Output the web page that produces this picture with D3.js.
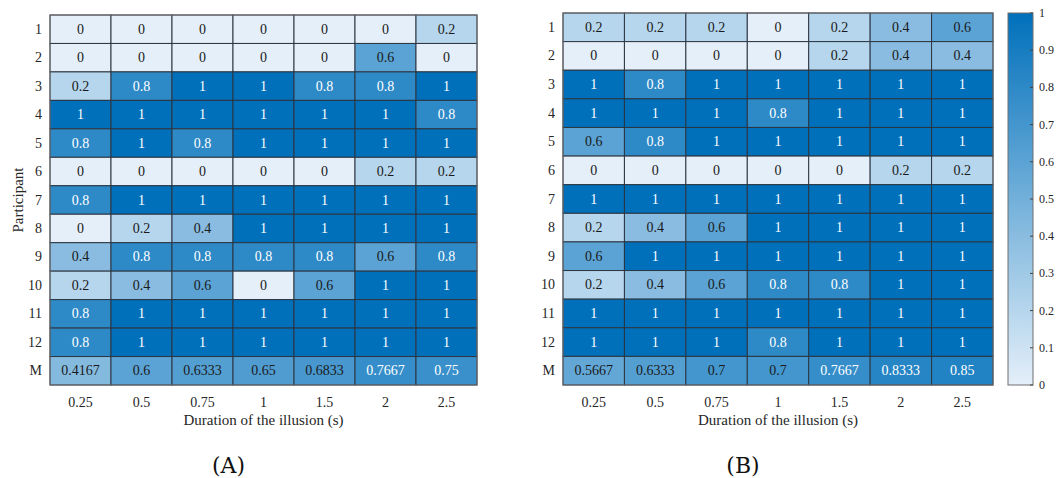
<!DOCTYPE html>
<html><head><meta charset="utf-8">
<script src="https://cdn.jsdelivr.net/npm/d3@7"></script>
<style>body{margin:0;background:#fff;}svg{display:block;}</style>
</head><body><svg id="c" width="1058" height="478" font-family="Liberation Serif, DejaVu Serif, serif"></svg>
<script>
const durations = ["0.25","0.5","0.75","1","1.5","2","2.5"];
const rowsLabels = ["1","2","3","4","5","6","7","8","9","10","11","12","M"];
const dataA = [
 [0,0,0,0,0,0,0.2],
 [0,0,0,0,0,0.6,0],
 [0.2,0.8,1,1,0.8,0.8,1],
 [1,1,1,1,1,1,0.8],
 [0.8,1,0.8,1,1,1,1],
 [0,0,0,0,0,0.2,0.2],
 [0.8,1,1,1,1,1,1],
 [0,0.2,0.4,1,1,1,1],
 [0.4,0.8,0.8,0.8,0.8,0.6,0.8],
 [0.2,0.4,0.6,0,0.6,1,1],
 [0.8,1,1,1,1,1,1],
 [0.8,1,1,1,1,1,1],
 [0.4167,0.6,0.6333,0.65,0.6833,0.7667,0.75]
];
const dataB = [
 [0.2,0.2,0.2,0,0.2,0.4,0.6],
 [0,0,0,0,0.2,0.4,0.4],
 [1,0.8,1,1,1,1,1],
 [1,1,1,0.8,1,1,1],
 [0.6,0.8,1,1,1,1,1],
 [0,0,0,0,0,0.2,0.2],
 [1,1,1,1,1,1,1],
 [0.2,0.4,0.6,1,1,1,1],
 [0.6,1,1,1,1,1,1],
 [0.2,0.4,0.6,0.8,0.8,1,1],
 [1,1,1,1,1,1,1],
 [1,1,1,0.8,1,1,1],
 [0.5667,0.6333,0.7,0.7,0.7667,0.8333,0.85]
];
const colorTicks = [0,0.1,0.2,0.3,0.4,0.5,0.6,0.7,0.8,0.9,1];

const FONT = "Liberation Serif, DejaVu Serif, serif";
const svg = d3.select("#c");
const color = d3.scaleLinear().domain([0,1]).range(["#e4eff9","#0070bb"]).interpolate(d3.interpolateRgb);

function panel(data, x0, x1, y0, y1, caption, showYTitle){
  const x = d3.scaleBand().domain(durations).range([x0,x1]);
  const y = d3.scaleBand().domain(rowsLabels).range([y0,y1]);
  const g = svg.append("g").attr("font-family",FONT);
  const cells = [];
  data.forEach((row,i)=>row.forEach((v,j)=>cells.push({r:rowsLabels[i],c:durations[j],v})));
  g.selectAll("rect.cell").data(cells).join("rect").attr("class","cell")
    .attr("x",d=>x(d.c)).attr("y",d=>y(d.r)).attr("width",x.bandwidth()).attr("height",y.bandwidth())
    .attr("fill",d=>color(d.v)).attr("stroke","#2c3540").attr("stroke-width",1);
  g.selectAll("text.val").data(cells).join("text").attr("class","val")
    .attr("font-family",FONT)
    .attr("x",d=>x(d.c)+x.bandwidth()/2).attr("y",d=>y(d.r)+y.bandwidth()/2)
    .attr("text-anchor","middle").attr("dominant-baseline","central")
    .attr("font-size",14).attr("fill",d=>d.v>0.72?"#ffffff":"#1a1a1a")
    .text(d=>String(d.v));
  g.append("rect").attr("x",x0).attr("y",y0).attr("width",x1-x0).attr("height",y1-y0)
    .attr("fill","none").attr("stroke","#6e6e6e").attr("stroke-width",1);
  g.selectAll("text.yl").data(rowsLabels).join("text").attr("class","yl")
    .attr("font-family",FONT)
    .attr("x",x0-8).attr("y",d=>y(d)+y.bandwidth()/2).attr("text-anchor","end")
    .attr("dominant-baseline","central").attr("font-size",14).attr("fill","#262626").text(d=>d);
  g.selectAll("text.xl").data(durations).join("text").attr("class","xl")
    .attr("font-family",FONT)
    .attr("x",d=>x(d)+x.bandwidth()/2).attr("y",y1+17).attr("text-anchor","middle")
    .attr("dominant-baseline","central").attr("font-size",14).attr("fill","#262626").text(d=>d);
  g.append("text").attr("font-family",FONT).attr("x",(x0+x1)/2).attr("y",y1+35).attr("text-anchor","middle")
    .attr("dominant-baseline","central").attr("font-size",15).attr("fill","#262626").text("Duration of the illusion (s)");
  if(showYTitle){
    g.append("text").attr("font-family",FONT).attr("transform",`translate(${x0-32},${(y0+y1)/2}) rotate(-90)`)
      .attr("text-anchor","middle").attr("dominant-baseline","central").attr("font-size",15)
      .attr("fill","#262626").text("Participant");
  }
  g.append("text").attr("x",(x0+x1)/2-35).attr("y",465).attr("text-anchor","middle")
    .attr("dominant-baseline","central").attr("font-size",22).attr("font-family","DejaVu Serif, Liberation Serif, serif").attr("fill","#111").text(caption);
}

panel(dataA, 50, 477, 15, 385, "(A)", true);
panel(dataB, 563, 993, 13, 385, "(B)", false);

const cbX = 1008, cbW = 25, cbY0 = 13, cbY1 = 385;
const cy = d3.scaleLinear().domain([0,1]).range([cbY1,cbY0]);
const defs = svg.append("defs");
const grad = defs.append("linearGradient").attr("id","cbg").attr("x1","0").attr("y1","1").attr("x2","0").attr("y2","0");
d3.range(0,1.0001,0.1).forEach(t=>grad.append("stop").attr("offset",t).attr("stop-color",color(t)));
svg.append("rect").attr("x",cbX).attr("y",cbY0).attr("width",cbW).attr("height",cbY1-cbY0)
  .attr("fill","url(#cbg)").attr("stroke","#6e6e6e").attr("stroke-width",1);
const cbAxis = svg.append("g").attr("font-family",FONT);
cbAxis.selectAll("line").data(colorTicks).join("line")
  .attr("x1",cbX+cbW-3).attr("x2",cbX+cbW).attr("y1",d=>cy(d)).attr("y2",d=>cy(d))
  .attr("stroke","#444").attr("stroke-width",1);
cbAxis.selectAll("text").data(colorTicks).join("text")
  .attr("font-family",FONT)
  .attr("x",cbX+cbW+6).attr("y",d=>cy(d)).attr("dominant-baseline","central")
  .attr("font-size",12).attr("fill","#262626").text(d=>String(d));
</script></body></html>
